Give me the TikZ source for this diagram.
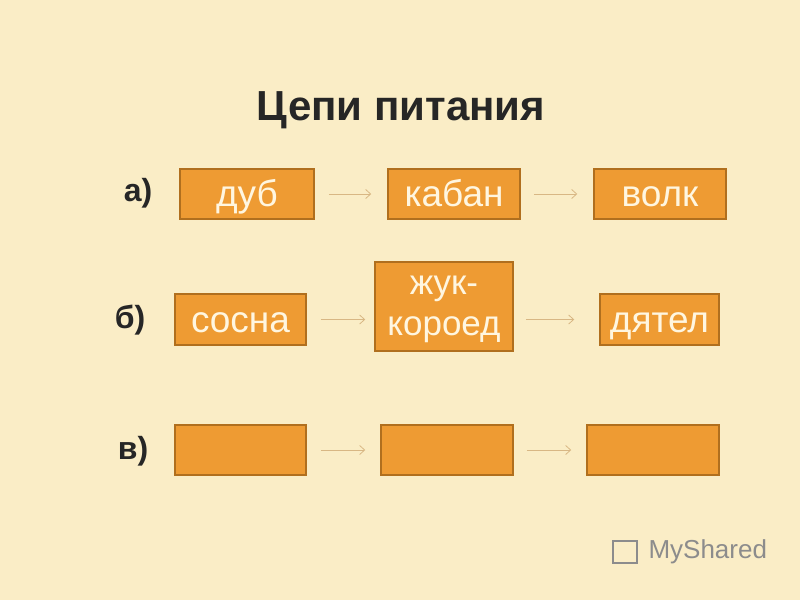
\documentclass[tikz,border=0pt]{standalone}
\usepackage{fontspec}
\setmainfont{Liberation Sans}
\begin{document}
\begin{tikzpicture}[x=1pt,y=-1pt,
  box/.style={draw=boxline,line width=1.5pt,fill=boxfill,text=boxtext,font=\fontsize{37}{38}\selectfont,inner sep=0pt,text height=33pt,text depth=8pt},
  arr/.style={draw=arrcol,line width=0.8pt,-{Straight Barb[length=5pt,width=9pt]}},
  lbl/.style={font=\bfseries\fontsize{32}{34}\selectfont,text=black!85}]
\definecolor{bg}{HTML}{FAEDC6}
\definecolor{boxfill}{HTML}{EE9B33}
\definecolor{boxline}{HTML}{B06F1E}
\definecolor{boxtext}{HTML}{FFF6E0}
\definecolor{arrcol}{HTML}{D8B784}
\usetikzlibrary{arrows.meta}
\fill[bg] (0,0) rectangle (800,600);
\useasboundingbox (0,0) rectangle (800,600);
\node[font=\bfseries\fontsize{42}{44}\selectfont,text=black!85] (title) at (401,110) {Цепи питания};
\node[lbl] (la) at (138,193) {а)};
\node[lbl] (lb) at (130,320) {б)};
\node[lbl] (lc) at (133,451) {в)};
\node[box,minimum width=134,minimum height=50] (a1) at (247,194) {дуб};
\node[box,minimum width=132,minimum height=50] (a2) at (454,194) {кабан};
\node[box,minimum width=132,minimum height=50] (a3) at (660,194) {волк};
\node[box,minimum width=131,minimum height=51] (b1) at (240.5,319.5) {сосна};
\node[box,minimum width=138,minimum height=89,text height=,text depth=] (b2) at (444,306.5) {};
\node[align=center,text=boxtext,inner sep=0pt,font=\fontsize{35}{41}\selectfont] (b2t) at (444,309) {жук-\\короед};
\node[box,minimum width=119,minimum height=51] (b3) at (659.5,319.5) {дятел};
\node[box,minimum width=131,minimum height=50] (c1) at (240.5,450) {};
\node[box,minimum width=132,minimum height=50] (c2) at (447,450) {};
\node[box,minimum width=132,minimum height=50] (c3) at (653,450) {};
\draw[arr] ([xshift=14]a1.east) -- ([xshift=-16]a2.west);
\draw[arr] ([xshift=13]a2.east) -- ([xshift=-16]a3.west);
\draw[arr] ([xshift=14]b1.east) -- ([xshift=-9]b2.west|-b1.east);
\draw[arr] ([xshift=12]b2.east|-b3.west) -- ([xshift=-25]b3.west);
\draw[arr] ([xshift=14]c1.east) -- ([xshift=-15]c2.west);
\draw[arr] ([xshift=13]c2.east) -- ([xshift=-15]c3.west);
\node[text=black!45,font=\fontsize{26}{28}\selectfont,anchor=west] (wm) at (645,552) {MyShared};
\node[draw=black!45,line width=1.5pt,minimum width=24,minimum height=22] (wi) at (625,552) {};
\end{tikzpicture}
\end{document}
